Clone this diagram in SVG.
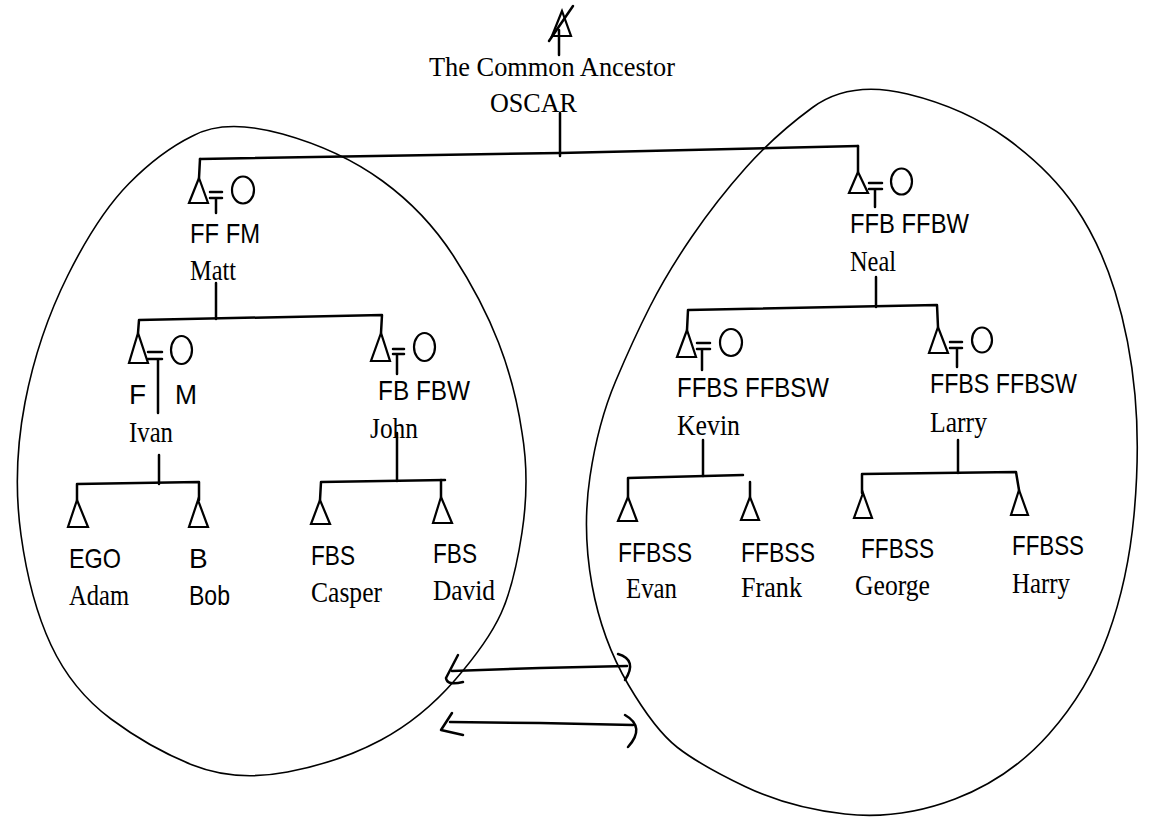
<svg xmlns="http://www.w3.org/2000/svg" width="1151" height="821" viewBox="0 0 1151 821">
<style>
.ln{stroke:#000;stroke-width:2.5;fill:none;stroke-linecap:round;stroke-linejoin:round}
.sym{stroke:#000;stroke-width:2.2;fill:none;stroke-linejoin:miter}
.blob{stroke:#000;stroke-width:1.6;fill:none}
.sans{font-family:"Liberation Sans",Arial,sans-serif;font-size:28px;fill:#000}
.serif{font-family:"Liberation Serif","Times New Roman",serif;font-size:30px;fill:#000}
.title{font-family:"Liberation Serif","Times New Roman",serif;font-size:27px;fill:#000}
</style>
<rect width="1151" height="821" fill="#fff"/>
<g id="regions">
<path class="blob" d="M192.5,136 Q225,118 282.5,134 Q340,150 382.5,181 Q425,212 453.5,256 Q482,300 498.5,342.5 Q515,385 522,432.5 Q530,480 522,532.5 Q514,585 501,613.5 Q488,642 455,680 Q422,718 381,740 Q340,762 287.5,772 Q235,782 192.5,765 Q150,748 111,719 Q72,690 51,645 Q30,600 21,535 Q12,470 25,402.5 Q38,335 68,275 Q98,215 129,183.5 Q160,152 192.5,136 Z"/>
<path class="blob" d="M812.5,107.5 Q850,80 907.5,94 Q965,108 1007.5,139 Q1050,170 1075,206.5 Q1100,243 1115,291.5 Q1130,340 1135,395 Q1140,450 1134,515 Q1128,580 1108,635 Q1088,690 1049,734 Q1010,778 955,799 Q900,820 845,814 Q790,808 745,786.5 Q700,765 677.5,747.5 Q655,730 628.5,685 Q602,640 592,585 Q582,530 590,476.5 Q598,423 615.5,381.5 Q633,340 650,306.5 Q667,273 692,236.5 Q717,200 746,167.5 Q775,135 812.5,107.5 Z"/>
</g>
<g id="connectors">
<polyline class="ln" points="200,159 560,153 858,146"/>
<line class="ln" x1="560" y1="113" x2="560" y2="156"/>
<line class="ln" x1="200" y1="159" x2="199" y2="178"/>
<line class="ln" x1="858" y1="146" x2="858" y2="172"/>
<line class="ln" x1="216" y1="283" x2="216" y2="319"/>
<polyline class="ln" points="138,333 139,320 382,315 381,333"/>
<line class="ln" x1="159" y1="455" x2="159" y2="484"/>
<polyline class="ln" points="77,500 77,484 199,482 199,500"/>
<line class="ln" x1="397" y1="433" x2="397" y2="481"/>
<polyline class="ln" points="320,500 321,482 445,480"/>
<line class="ln" x1="441" y1="480" x2="441" y2="497"/>
<line class="ln" x1="876" y1="277" x2="876" y2="307"/>
<polyline class="ln" points="687,330 688,310 937,305 938,327"/>
<line class="ln" x1="703" y1="440" x2="703" y2="476"/>
<polyline class="ln" points="628,497 628,478 743,475"/>
<line class="ln" x1="750" y1="482" x2="750" y2="497"/>
<line class="ln" x1="958" y1="440" x2="958" y2="473"/>
<polyline class="ln" points="862,493 862,474 1016,472 1019,490"/>
<path class="ln" d="M452,671 L540,668 L627,666"/>
<path class="ln" d="M618,654 Q638,660 625,680"/>
<path class="ln" d="M458,655 L446,678 Q447,686 463,682"/>
<path class="ln" d="M450,722 L540,723 L633,725"/>
<path class="ln" d="M452,713 L441,730 L463,735"/>
<path class="ln" d="M625,715 Q646,727 628,747"/>
</g>
<g id="oscar">
<polygon class="sym" points="562,11 552,36 571,36"/>
<line class="ln" x1="549" y1="41" x2="573" y2="6"/>
<line class="ln" x1="559" y1="30" x2="559" y2="55"/>
<text class="title" x="429" y="76" textLength="246" lengthAdjust="spacingAndGlyphs">The Common Ancestor</text>
<text class="title" x="490" y="112" textLength="87" lengthAdjust="spacingAndGlyphs">OSCAR</text>
</g>
<g id="matt">
<polygon class="sym" points="199,178 189,203 208,203"/>
<path class="ln" d="M210,192 H222 M210,198 H222 M216,198 V213"/>
<ellipse class="sym" cx="243" cy="190" rx="11" ry="13.5"/>
<text class="sans" x="190" y="243" textLength="70" lengthAdjust="spacingAndGlyphs">FF FM</text>
<text class="serif" x="190" y="280" textLength="46" lengthAdjust="spacingAndGlyphs">Matt</text>
</g>
<g id="ivan">
<polygon class="sym" points="138,333 129,363 148,363"/>
<path class="ln" d="M148,352 H162 M148,359 H162 M158,359 V413"/>
<ellipse class="sym" cx="181.5" cy="350" rx="10.5" ry="14"/>
<text class="sans" x="129" y="404">F</text>
<text class="sans" x="175" y="404" textLength="22" lengthAdjust="spacingAndGlyphs">M</text>
<text class="serif" x="129" y="442" textLength="44" lengthAdjust="spacingAndGlyphs">Ivan</text>
</g>
<g id="john">
<polygon class="sym" points="381,333 371,361 390,361"/>
<path class="ln" d="M393,349 H404 M393,354 H404 M397,354 V374"/>
<ellipse class="sym" cx="424.5" cy="347" rx="10.5" ry="14"/>
<text class="sans" x="378" y="400" textLength="92" lengthAdjust="spacingAndGlyphs">FB FBW</text>
<text class="serif" x="370" y="438" textLength="48" lengthAdjust="spacingAndGlyphs">John</text>
</g>
<g id="adam">
<polygon class="sym" points="77,500 68,527 88,527" fill="#000"/>
<text class="sans" x="69" y="568" textLength="52" lengthAdjust="spacingAndGlyphs">EGO</text>
<text class="serif" x="69" y="605" textLength="60" lengthAdjust="spacingAndGlyphs">Adam</text>
</g>
<g id="bob">
<polygon class="sym" points="198,500 189,527 208,527"/>
<text class="sans" x="189" y="568">B</text>
<text class="sans" x="189" y="605" textLength="41" lengthAdjust="spacingAndGlyphs">Bob</text>
</g>
<g id="casper">
<polygon class="sym" points="320,500 311,524 330,524"/>
<text class="sans" x="311" y="565" textLength="44" lengthAdjust="spacingAndGlyphs">FBS</text>
<text class="serif" x="311" y="602" textLength="71" lengthAdjust="spacingAndGlyphs">Casper</text>
</g>
<g id="david">
<polygon class="sym" points="441,497 433,523 452,523"/>
<text class="sans" x="433" y="563" textLength="44" lengthAdjust="spacingAndGlyphs">FBS</text>
<text class="serif" x="433" y="600" textLength="62" lengthAdjust="spacingAndGlyphs">David</text>
</g>
<g id="neal">
<polygon class="sym" points="858,172 849,193 868,193"/>
<path class="ln" d="M869,183 H882 M869,189 H882 M875,189 V207"/>
<ellipse class="sym" cx="901.5" cy="181.5" rx="10.5" ry="13"/>
<text class="sans" x="850" y="233" textLength="119" lengthAdjust="spacingAndGlyphs">FFB FFBW</text>
<text class="serif" x="850" y="271" textLength="46" lengthAdjust="spacingAndGlyphs">Neal</text>
</g>
<g id="kevin">
<polygon class="sym" points="687,330 677,357 696,357"/>
<path class="ln" d="M697,343 H710 M697,349 H710 M702,349 V370"/>
<ellipse class="sym" cx="731" cy="342.5" rx="11" ry="13.5"/>
<text class="sans" x="677" y="397" textLength="152" lengthAdjust="spacingAndGlyphs">FFBS FFBSW</text>
<text class="serif" x="677" y="435" textLength="63" lengthAdjust="spacingAndGlyphs">Kevin</text>
</g>
<g id="larry">
<polygon class="sym" points="938,327 929,353 948,353"/>
<path class="ln" d="M950,342 H962 M950,348 H962 M957,348 V367"/>
<ellipse class="sym" cx="982" cy="340" rx="10" ry="12.5"/>
<text class="sans" x="930" y="393" textLength="147" lengthAdjust="spacingAndGlyphs">FFBS FFBSW</text>
<text class="serif" x="930" y="432" textLength="57" lengthAdjust="spacingAndGlyphs">Larry</text>
</g>
<g id="evan">
<polygon class="sym" points="628,497 618,521 637,521"/>
<text class="sans" x="618" y="562" textLength="74" lengthAdjust="spacingAndGlyphs">FFBSS</text>
<text class="serif" x="626" y="598" textLength="51" lengthAdjust="spacingAndGlyphs">Evan</text>
</g>
<g id="frank">
<polygon class="sym" points="750,497 741,520 759,520"/>
<text class="sans" x="741" y="562" textLength="74" lengthAdjust="spacingAndGlyphs">FFBSS</text>
<text class="serif" x="741" y="597" textLength="61" lengthAdjust="spacingAndGlyphs">Frank</text>
</g>
<g id="george">
<polygon class="sym" points="863,493 854,518 872,518"/>
<text class="sans" x="861" y="558" textLength="73" lengthAdjust="spacingAndGlyphs">FFBSS</text>
<text class="serif" x="855" y="595" textLength="75" lengthAdjust="spacingAndGlyphs">George</text>
</g>
<g id="harry">
<polygon class="sym" points="1019,490 1011,515 1028,515"/>
<text class="sans" x="1012" y="555" textLength="72" lengthAdjust="spacingAndGlyphs">FFBSS</text>
<text class="serif" x="1012" y="593" textLength="58" lengthAdjust="spacingAndGlyphs">Harry</text>
</g>
</svg>
